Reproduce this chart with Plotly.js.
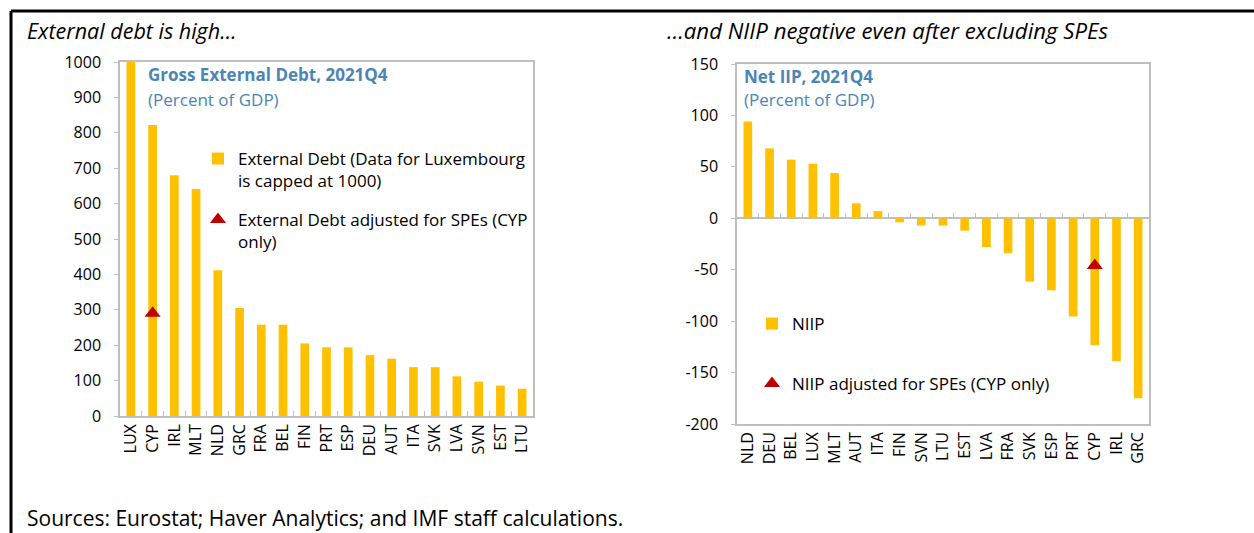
<!DOCTYPE html>
<html><head><meta charset="utf-8">
<script src="https://cdn.plot.ly/plotly-3.0.1.min.js"></script>
<style>html,body{margin:0;padding:0;background:#fff}</style>
</head><body><div id="chart" style="width:1254px;height:533px"></div>
<script>
// ---- Data ----
const debtCountries = ['LUX','CYP','IRL','MLT','NLD','GRC','FRA','BEL','FIN','PRT','ESP','DEU','AUT','ITA','SVK','LVA','SVN','EST','LTU'];
const debtValues    = [1000, 822, 680, 641, 412, 305, 258, 258, 205, 194, 194, 172, 162, 138, 138, 112, 97, 86, 77];
const debtAdjCountry = ['CYP'];
const debtAdjValue   = [290];

const niipCountries = ['NLD','DEU','BEL','LUX','MLT','AUT','ITA','FIN','SVN','LTU','EST','LVA','FRA','SVK','ESP','PRT','CYP','IRL','GRC'];
const niipValues    = [94, 68, 57, 53, 44, 14.5, 7, -4, -7, -7, -12, -28, -34, -61.5, -70, -95.5, -123.5, -139, -175];
const niipAdjCountry = ['CYP'];
const niipAdjValue   = [-46];

const niipTickVals = [-200, -150, -100, -50, 0, 50, 100, 150];
const niipTickText = ['-200', '-150', '-100', '-50', '0', '50', '100', '150'];

// ---- Layout helpers ----
const W = 1254, H = 533;
const px = v => v / W;
const py = v => 1 - v / H;

const FONT = 'Open Sans, Noto Sans, sans-serif';
const BAR = '#FFC000';
const TRI = '#C00000';
const BLUE = '#4A85B5';
const GRAY = '#BFBFBF';

const yDom2 = [py(424), py(64)];
const yRange2 = [-200, 150];
const zeroPos = yDom2[0] + (0 - yRange2[0]) / (yRange2[1] - yRange2[0]) * (yDom2[1] - yDom2[0]);

const traces = [
  {type:'bar', x:debtCountries, y:debtValues, xaxis:'x', yaxis:'y', marker:{color:BAR},
   name:'External Debt (Data for Luxembourg<br>is capped at 1000)', legend:'legend', hoverinfo:'x+y'},
  {type:'scatter', mode:'markers', x:debtAdjCountry, y:debtAdjValue, xaxis:'x', yaxis:'y',
   marker:{symbol:'triangle-up', color:TRI, size:14},
   name:'External Debt adjusted for SPEs (CYP<br>only)', legend:'legend2'},
  {type:'bar', x:niipCountries, y:niipValues, xaxis:'x2', yaxis:'y2', marker:{color:BAR},
   name:'NIIP', legend:'legend3'},
  {type:'scatter', mode:'markers', x:niipAdjCountry, y:niipAdjValue, xaxis:'x2', yaxis:'y2',
   marker:{symbol:'triangle-up', color:TRI, size:14},
   name:'NIIP adjusted for SPEs (CYP only)', legend:'legend4'},
  // carrier for zero-line category ticks on right chart
  {type:'scatter', mode:'none', x:niipCountries, y:niipValues, xaxis:'x3', yaxis:'y2',
   showlegend:false, hoverinfo:'skip'}
];

const legBase = {bgcolor:'rgba(0,0,0,0)', font:{family:FONT, size:17, color:'#000'},
  xanchor:'left', yanchor:'top', valign:'top', itemclick:false, itemdoubleclick:false};

const layout = {
  width:W, height:H,
  margin:{l:0, r:0, t:0, b:0},
  paper_bgcolor:'#fff', plot_bgcolor:'#fff',
  font:{family:FONT, color:'#000'},
  bargap:0.6,
  xaxis:{domain:[px(120), px(533)], anchor:'y', type:'category', range:[-0.5,18.5],
    showline:true, mirror:true, linecolor:GRAY, linewidth:1.5,
    ticks:'inside', tickson:'boundaries', ticklen:5, tickcolor:GRAY, tickwidth:1,
    tickangle:-90, tickfont:{family:FONT, size:16, color:'#000'}, showgrid:false, fixedrange:true},
  yaxis:{domain:[py(416), py(62)], anchor:'x', range:[0,1000], dtick:100,
    showline:true, mirror:true, linecolor:GRAY, linewidth:1.5, showgrid:false, zeroline:false,
    ticks:'outside', ticklen:4, tickcolor:GRAY, ticklabelstandoff:10,
    tickfont:{family:FONT, size:16, color:'#000'}, fixedrange:true},
  xaxis2:{domain:[px(737), px(1149)], anchor:'y2', type:'category', range:[-0.5,18.5],
    showline:true, mirror:true, linecolor:GRAY, linewidth:1.5, ticks:'',
    tickangle:-90, tickfont:{family:FONT, size:16, color:'#000'}, showgrid:false, fixedrange:true},
  xaxis3:{overlaying:'x2', anchor:'free', position:zeroPos, side:'bottom', type:'category', range:[-0.5,18.5],
    showline:false, showticklabels:false, ticks:'inside', tickson:'boundaries', ticklen:5,
    tickcolor:GRAY, tickwidth:1, showgrid:false, fixedrange:true},
  yaxis2:{domain:yDom2, anchor:'x2', range:yRange2, tickmode:'array', tickvals:niipTickVals, ticktext:niipTickText,
    showline:true, mirror:true, linecolor:GRAY, linewidth:1.5, showgrid:false,
    zeroline:true, zerolinecolor:GRAY, zerolinewidth:1.5,
    ticks:'outside', ticklen:4, tickcolor:GRAY, ticklabelstandoff:10,
    tickfont:{family:FONT, size:16, color:'#000'}, fixedrange:true},
  legend: Object.assign({}, legBase, {x:px(198), y:py(141)}),
  legend2: Object.assign({}, legBase, {x:px(198), y:py(202)}),
  legend3: Object.assign({}, legBase, {x:px(752), y:py(306)}),
  legend4: Object.assign({}, legBase, {x:px(752), y:py(366)}),
  shapes:[
    {type:'line', xref:'paper', yref:'paper', x0:px(11), x1:1, y0:py(11), y1:py(11), line:{color:'#000', width:3}},
    {type:'line', xref:'paper', yref:'paper', x0:px(11), x1:px(11), y0:py(11), y1:0, line:{color:'#000', width:3}}
  ],
  annotations:[
    {text:'<i>External debt is high…</i>', xref:'paper', yref:'paper', x:px(25), y:py(30),
     xanchor:'left', yanchor:'middle', showarrow:false, font:{family:FONT, size:21.5, color:'#000'}},
    {text:'<i>…and NIIP negative even after excluding SPEs</i>', xref:'paper', yref:'paper', x:px(665), y:py(30),
     xanchor:'left', yanchor:'middle', showarrow:false, font:{family:FONT, size:22.2, color:'#000'}},
    {text:'Sources: Eurostat; Haver Analytics; and IMF staff calculations.', xref:'paper', yref:'paper', x:px(25), y:py(518),
     xanchor:'left', yanchor:'middle', showarrow:false, font:{family:FONT, size:21, color:'#000'}},
    {text:'<b>Gross External Debt, 2021Q4</b>', xref:'paper', yref:'paper', x:px(146), y:py(75),
     xanchor:'left', yanchor:'middle', showarrow:false, font:{family:FONT, size:17, color:BLUE}},
    {text:'(Percent of GDP)', xref:'paper', yref:'paper', x:px(146), y:py(99),
     xanchor:'left', yanchor:'middle', showarrow:false, font:{family:FONT, size:17, color:BLUE}},
    {text:'<b>Net IIP, 2021Q4</b>', xref:'paper', yref:'paper', x:px(742), y:py(76),
     xanchor:'left', yanchor:'middle', showarrow:false, font:{family:FONT, size:17, color:BLUE}},
    {text:'(Percent of GDP)', xref:'paper', yref:'paper', x:px(742), y:py(100),
     xanchor:'left', yanchor:'middle', showarrow:false, font:{family:FONT, size:17, color:BLUE}}
  ]
};

Plotly.newPlot('chart', traces, layout, {displayModeBar:false, staticPlot:false});
</script>
</body></html>
